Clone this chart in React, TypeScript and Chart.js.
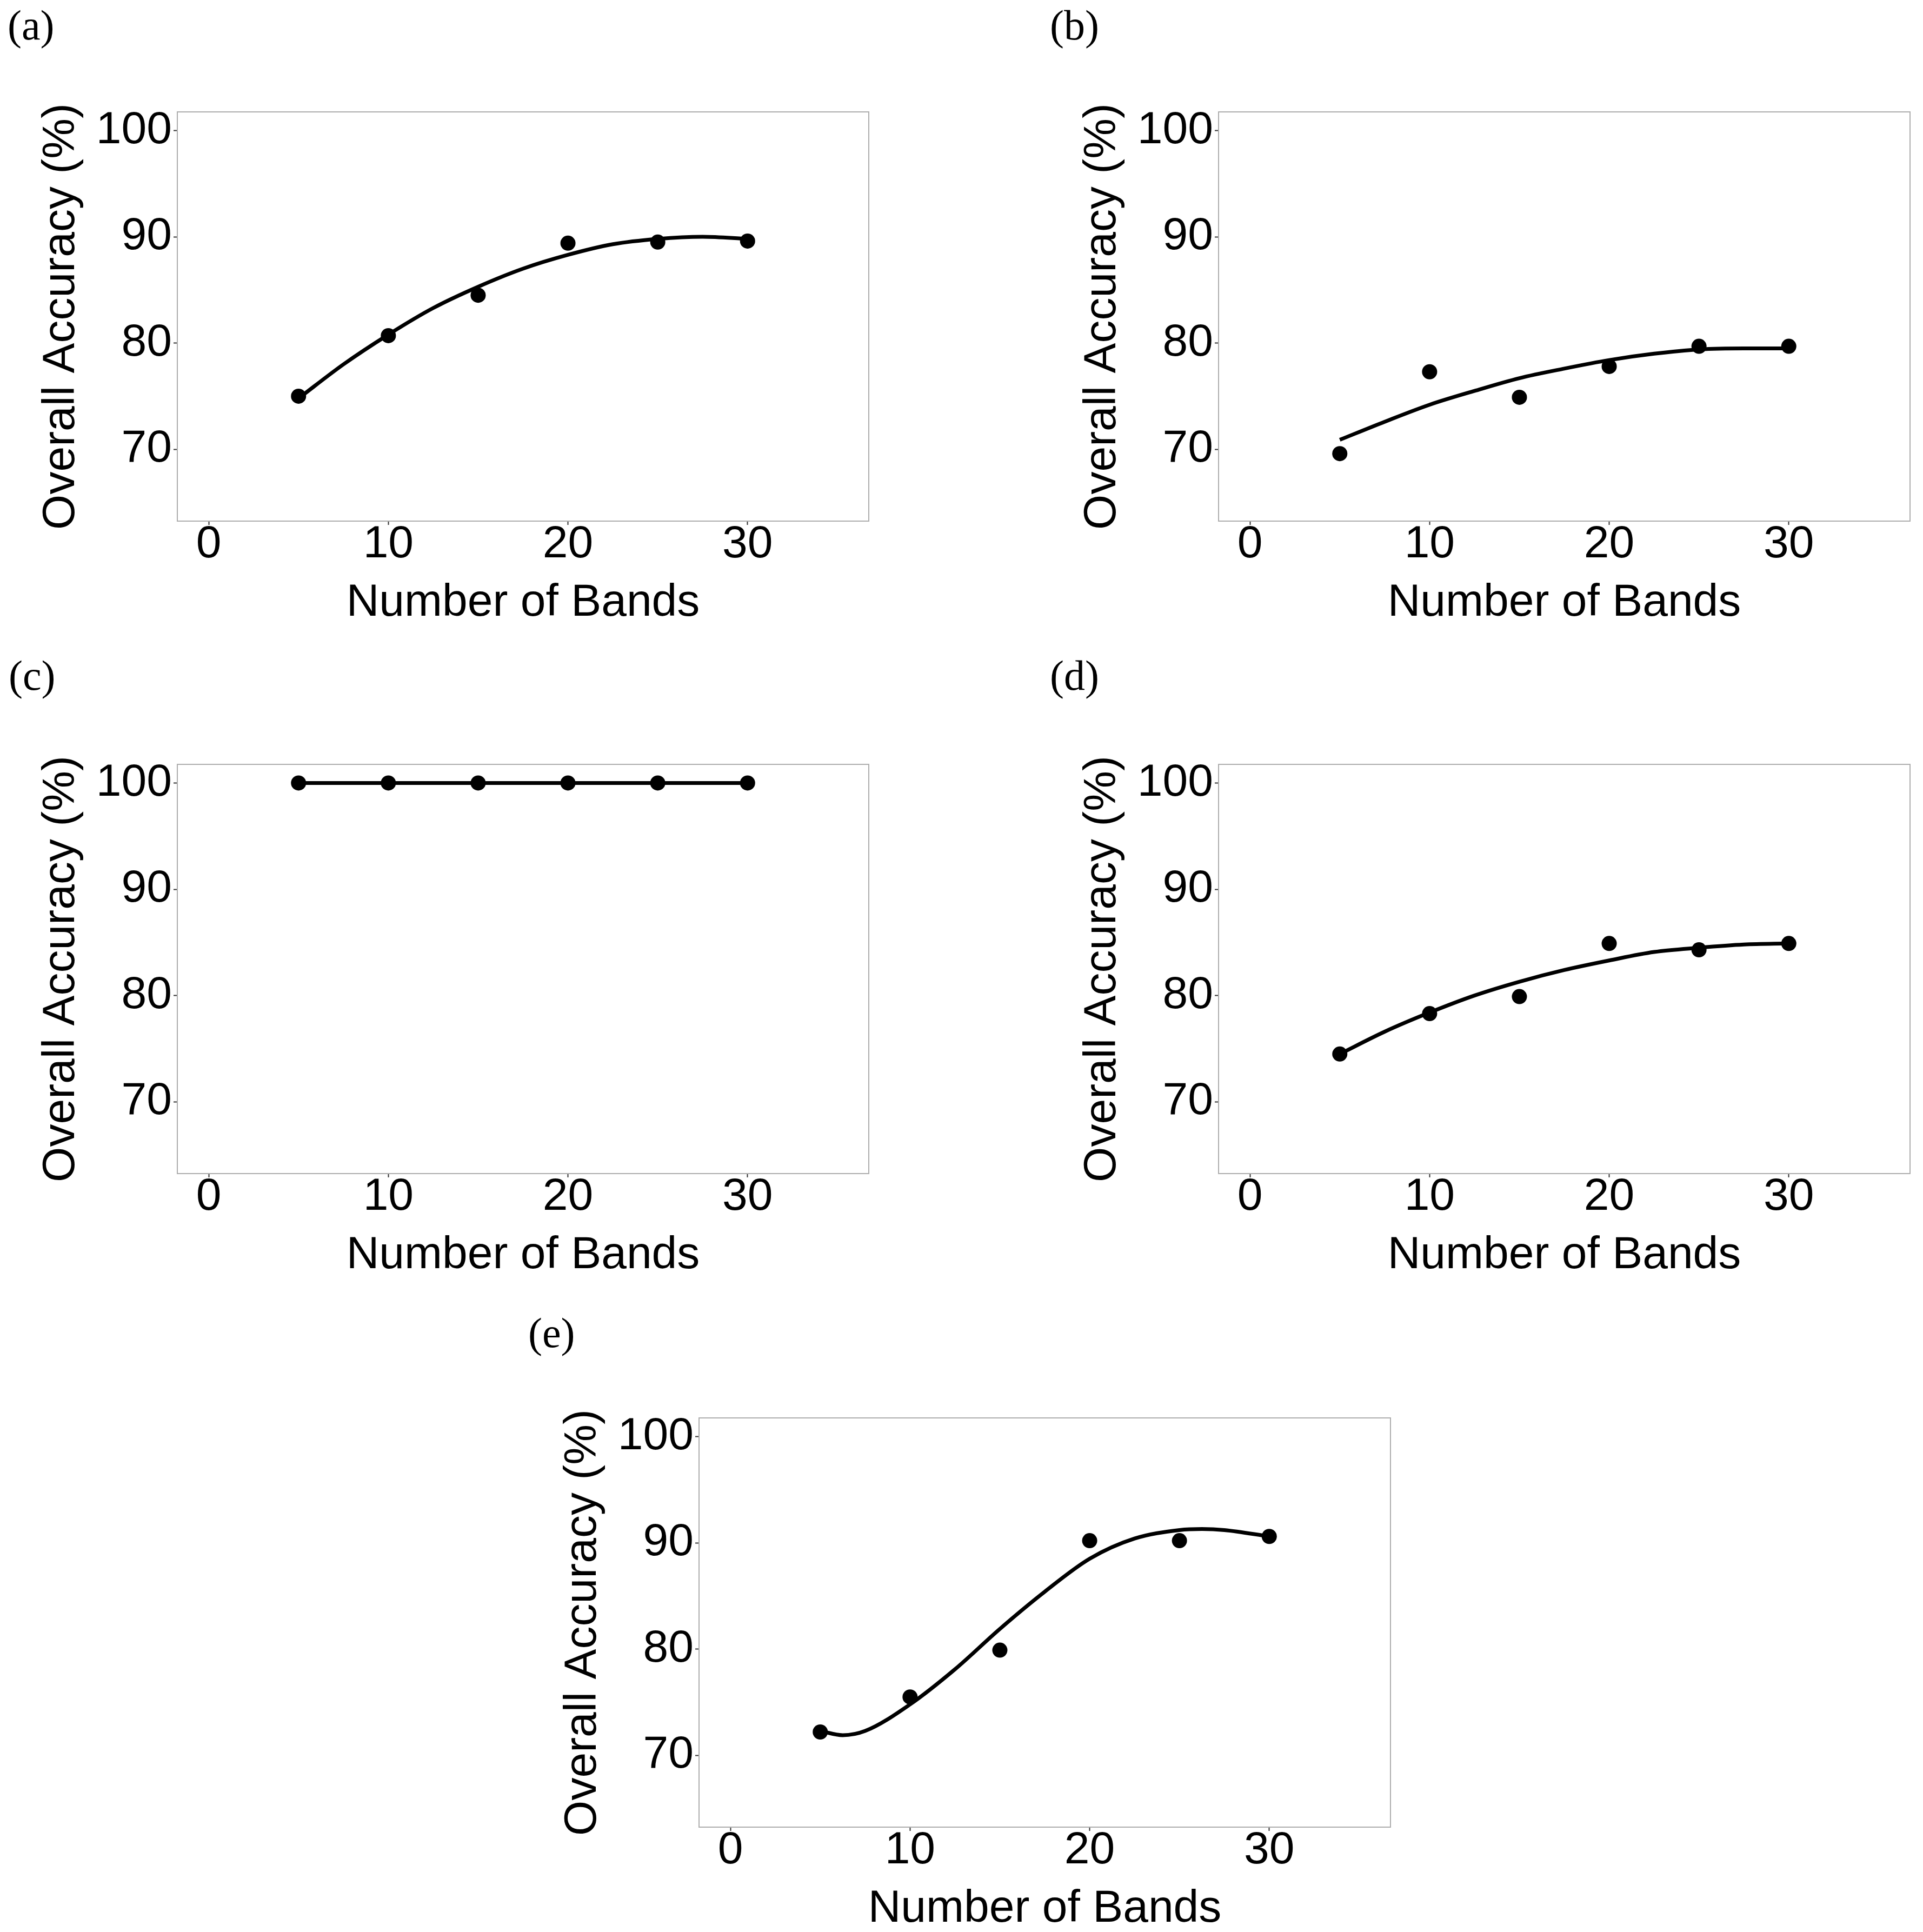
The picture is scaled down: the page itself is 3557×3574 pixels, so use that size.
import React, { useEffect, useRef } from 'react';
import Chart from 'chart.js/auto';

// number of bands and measured overall accuracy (%) for each panel
const bandCounts = [5, 10, 15, 20, 25, 30];
const accuracyA = [75.0, 80.7, 84.5, 89.4, 89.5, 89.6];
const accuracyB = [69.6, 77.3, 74.9, 77.8, 79.7, 79.7];
const accuracyC = [100, 100, 100, 100, 100, 100];
const accuracyD = [74.5, 78.3, 79.9, 84.9, 84.3, 84.9];
const accuracyE = [72.2, 75.5, 79.9, 90.2, 90.2, 90.6];

// fitted trend curves
const fitBands = [5, 7.5, 10, 12.5, 15, 17.5, 20, 22.5, 25, 27.5, 30];
const fitA = [74.8, 78.0, 80.8, 83.3, 85.3, 87.0, 88.3, 89.3, 89.8, 90.0, 89.8];
const fitB = [70.9, 72.6, 74.2, 75.5, 76.7, 77.6, 78.4, 79.0, 79.4, 79.5, 79.5];
const fitC = [100, 100, 100, 100, 100, 100, 100, 100, 100, 100, 100];
const fitD = [74.5, 76.6, 78.4, 80.0, 81.3, 82.4, 83.3, 84.1, 84.5, 84.8, 84.9];
const fitBandsE = [5, 6.25, 7.5, 10, 12.5, 15, 17.5, 20, 22.5, 25, 26.25, 27.5, 30];
const fitE = [72.3, 71.9, 72.3, 74.8, 78.1, 81.9, 85.4, 88.5, 90.4, 91.2, 91.3, 91.2, 90.6];

const xTicks = [0, 10, 20, 30];
const yTicks = [70, 80, 90, 100];
const xRange = [-1.75, 36.75];
const yRange = [63.25, 101.75];

const SANS = "'Liberation Sans', Arial, sans-serif";
const SERIF = "'Liberation Serif', 'Times New Roman', serif";

// canvas geometry (y axis strip, plot box, x axis strip)
const Y_STRIP = 328;
const BOX_W = 1279;
const BOX_H = 757;
const X_STRIP = 196;
const PAD_TOP = 60;
const PAD_RIGHT = 20;
const CANVAS_W = Y_STRIP + BOX_W + PAD_RIGHT;
const CANVAS_H = PAD_TOP + BOX_H + X_STRIP;

const boxPlugin = {
  id: 'panelBox',
  afterDatasetsDraw(chart: any) {
    const { ctx, chartArea: a } = chart;
    ctx.save();
    ctx.strokeStyle = '#adadad';
    ctx.lineWidth = 2;
    ctx.strokeRect(a.left, a.top, a.right - a.left, a.bottom - a.top);
    ctx.restore();
  },
};

type PanelProps = {
  left: number;
  top: number;
  values: number[];
  fitX: number[];
  fitY: number[];
};

const Panel: React.FC<PanelProps> = ({ left, top, values, fitX, fitY }) => {
  const chartRef = useRef<HTMLCanvasElement>(null);
  const chartInstance = useRef<Chart | null>(null);

  useEffect(() => {
    if (!chartRef.current) return;
    const axisFont = { family: SANS, size: 84, lineHeight: 1 };
    const tickGrid = {
      drawOnChartArea: false,
      drawTicks: true,
      tickLength: 7,
      tickWidth: 2,
      tickColor: '#333333',
    };

    chartInstance.current = new Chart(chartRef.current, {
      type: 'scatter',
      data: {
        datasets: [
          {
            type: 'line',
            data: fitX.map((x, i) => ({ x, y: fitY[i] })),
            borderColor: '#000000',
            borderWidth: 7,
            pointRadius: 0,
            cubicInterpolationMode: 'monotone',
            fill: false,
          },
          {
            type: 'scatter',
            data: bandCounts.map((x, i) => ({ x, y: values[i] })),
            backgroundColor: '#000000',
            borderWidth: 0,
            pointRadius: 14,
          },
        ],
      },
      options: {
        animation: false,
        responsive: false,
        devicePixelRatio: 1,
        events: [],
        layout: { padding: { top: PAD_TOP, right: PAD_RIGHT, left: 0, bottom: 0 } },
        plugins: {
          legend: { display: false },
          tooltip: { enabled: false },
        },
        scales: {
          x: {
            type: 'linear',
            min: xRange[0],
            max: xRange[1],
            afterBuildTicks: (s: any) => {
              s.ticks = xTicks.map((v) => ({ value: v }));
            },
            afterFit: (s: any) => {
              s.height = X_STRIP;
            },
            grid: tickGrid,
            border: { display: false },
            ticks: {
              color: '#000000',
              font: { ...axisFont, lineHeight: 0.8 },
              padding: 3,
              maxRotation: 0,
              autoSkip: false,
            },
            title: {
              display: true,
              text: 'Number of Bands',
              color: '#000000',
              font: axisFont,
              padding: { top: 0, bottom: 2 },
            },
          },
          y: {
            type: 'linear',
            min: yRange[0],
            max: yRange[1],
            afterBuildTicks: (s: any) => {
              s.ticks = yTicks.map((v) => ({ value: v }));
            },
            afterFit: (s: any) => {
              s.width = Y_STRIP;
            },
            grid: tickGrid,
            border: { display: false },
            ticks: { color: '#000000', font: axisFont, padding: 3 },
            title: {
              display: true,
              text: 'Overall Accuracy (%)',
              color: '#000000',
              font: axisFont,
              padding: { top: 72, bottom: 0 },
            },
          },
        },
      },
      plugins: [boxPlugin],
    } as any);

    return () => {
      if (chartInstance.current) {
        chartInstance.current.destroy();
        chartInstance.current = null;
      }
    };
  }, [values, fitX, fitY]);

  return (
    <canvas
      ref={chartRef}
      width={CANVAS_W}
      height={CANVAS_H}
      style={{ position: 'absolute', left, top, width: CANVAS_W, height: CANVAS_H }}
    />
  );
};

const labelStyle = (left: number, top: number): React.CSSProperties => ({
  position: 'absolute',
  left,
  top,
  fontFamily: SERIF,
  fontSize: 78,
  lineHeight: '78px',
  color: '#000000',
});

const App: React.FC = () => {
  return (
    <div
      style={{
        position: 'absolute',
        left: 0,
        top: 0,
        width: 3557,
        height: 3574,
        overflow: 'hidden',
        background: '#ffffff',
      }}
    >
      <div style={labelStyle(14, 8)}>(a)</div>
      <div style={labelStyle(1942, 8)}>(b)</div>
      <div style={labelStyle(16, 1211)}>(c)</div>
      <div style={labelStyle(1942, 1211)}>(d)</div>
      <div style={labelStyle(977, 2427)}>(e)</div>

      <Panel left={0} top={207 - PAD_TOP} values={accuracyA} fitX={fitBands} fitY={fitA} />
      <Panel left={2254 - Y_STRIP} top={207 - PAD_TOP} values={accuracyB} fitX={fitBands} fitY={fitB} />
      <Panel left={0} top={1414 - PAD_TOP} values={accuracyC} fitX={fitBands} fitY={fitC} />
      <Panel left={2254 - Y_STRIP} top={1414 - PAD_TOP} values={accuracyD} fitX={fitBands} fitY={fitD} />
      <Panel left={1293 - Y_STRIP} top={2623 - PAD_TOP} values={accuracyE} fitX={fitBandsE} fitY={fitE} />
    </div>
  );
};

export default App;
